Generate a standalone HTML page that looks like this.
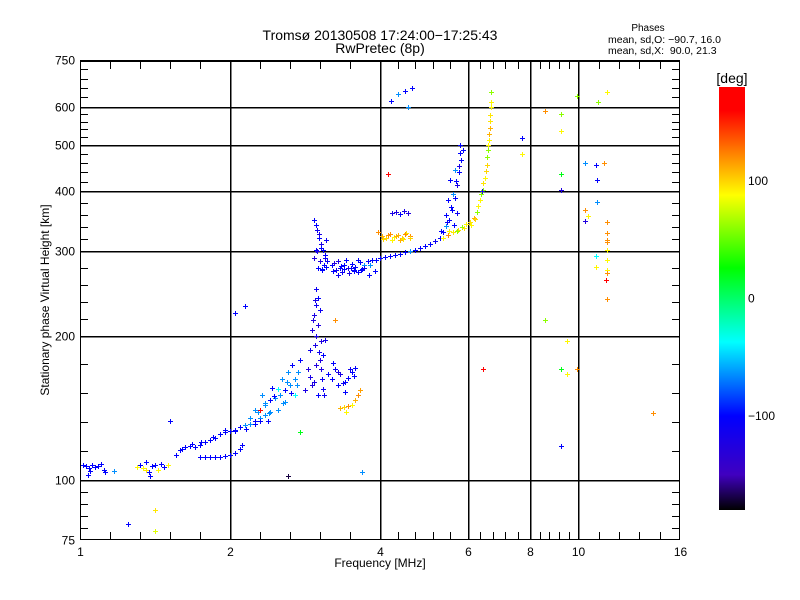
<!DOCTYPE html>
<html><head><meta charset="utf-8"><style>
html,body{margin:0;padding:0;background:#fff;}
svg{display:block;font-family:"Liberation Sans",sans-serif;}
</style></head><body>
<svg id="chart" width="800" height="600" viewBox="0 0 800 600" xmlns="http://www.w3.org/2000/svg" shape-rendering="crispEdges">
<rect x="0" y="0" width="800" height="600" fill="#fff"/>
<text x="380" y="40" font-size="14" text-anchor="middle">Tromsø 20130508 17:24:00−17:25:43</text>
<text x="380" y="53" font-size="14" text-anchor="middle">RwPretec (8p)</text>
<text x="648" y="31" font-size="10" text-anchor="middle">Phases</text>
<text x="608" y="43" font-size="10.5">mean, sd,O: −90.7, 16.0</text>
<text x="608" y="54" font-size="10.5" xml:space="preserve">mean, sd,X:  90.0, 21.3</text>
<text transform="translate(49,300) rotate(-90)" font-size="12" text-anchor="middle">Stationary phase Virtual Height [km]</text>
<text x="380" y="567" font-size="12" text-anchor="middle">Frequency [MHz]</text>
<g id="grid"></g>
<g id="points"></g>
<rect x="80.5" y="61.5" width="599" height="478" fill="none" stroke="#000" stroke-width="1"/>
<line x1="80" x2="680" y1="61" y2="61" stroke="#000" stroke-width="2"/>
<text x="732" y="83" font-size="14" text-anchor="middle">[deg]</text>
<g id="cbar"></g>
</svg>
<script>
// axis tick values
const xTickVals = [1, 2, 4, 6, 8, 10, 16];
const xTickLabels = ["1", "2", "4", "6", "8", "10", "16"];
const yTickVals = [75, 100, 200, 300, 400, 500, 600, 750];
const yTickLabels = ["75", "100", "200", "300", "400", "500", "600", "750"];
const cbTickVals = [100, 0, -100];
const cbTickLabels = ["100", "0", "−100"];

// echo data: frequency (MHz), virtual height (km), phase (deg)
const freqs = [
 1.014,1.028,1.042,1.057,1.072,1.087,1.102,1.047,1.117,1.038,1.122,1.170,
 1.301,1.320,1.338,1.357,1.376,1.395,1.414,1.434,1.454,1.474,1.502,1.382,1.357,
 1.558,1.587,1.625,1.662,1.701,1.741,1.782,1.824,1.866,1.910,1.955,2.0,2.047,2.095,2.144,2.194,2.246,2.297,2.352,2.406,
 1.741,1.782,1.824,1.866,1.910,1.955,2.0,2.047,2.095,2.114,
 2.194,2.277,2.352,2.406,2.462,2.52,2.581,2.639,2.700,2.319,2.43,2.544,2.617,2.662,2.739,2.765,2.497,2.385,2.581,2.700,
 2.828,2.868,2.89,2.917,2.945,2.972,3.0,2.958,3.03,3.06,3.0,3.1,2.917,3.03,2.958,3.14,3.09,2.89,2.972,3.075,
 3.2,3.29,3.37,3.45,3.51,3.57,3.25,3.4,3.33,
 3.33,3.39,3.45,3.51,3.56,3.61,3.64,3.42,
 2.297,2.765,2.617,1.516,2.047,2.144,3.68,3.25,1.248,1.414,1.414,
 2.945,2.986,3.014,3.044,3.075,3.1,3.13,2.972,3.03,3.0,3.06,3.115,2.945,3.09,
 3.2,3.26,3.33,3.39,3.45,3.51,3.57,3.64,3.71,3.78,3.85,3.93,4.0,3.29,3.42,3.54,3.68,3.82,3.36,3.61,
 4.093,4.19,4.29,4.39,4.49,4.59,4.7,4.81,4.92,5.04,5.16,5.28,5.35,5.42,5.5,5.57,5.66,5.71,5.76,5.81,5.87,5.79,5.66,5.52,5.47,5.42,
 4.037,4.11,4.19,4.27,4.35,4.43,4.52,4.59,4.23,4.39,3.96,
 4.23,4.31,4.39,4.47,4.55,
 5.35,5.47,5.6,5.74,5.84,5.95,6.06,6.18,6.27,6.35,6.43,6.5,6.56,6.59,6.62,6.66,6.66,6.69,6.69,
 4.21,4.35,4.49,4.63,4.55,4.15,
 11.4,9.93,10.93,8.56,9.24,9.24,7.71,7.71,10.33,10.83,11.25,9.24,10.88,9.24,10.88,10.33,10.47,11.4,10.33,11.4,11.4,11.4,11.4,10.83,11.4,10.83,11.4,11.4,11.34,11.4,8.56,9.47,9.24,9.93,9.47,14.1,9.24,6.43,
 3.22,3.3,3.38,3.46,3.55,3.62,3.72,3.8,3.9,3.24,3.34,3.5,3.66,
 2.97,3.02,3.05,3.1,2.99,3.06,3.12,
 2.93,2.98,3.02,3.05,2.95,3.08,3.0,2.97,3.04,
 5.3,5.45,5.55,5.6,5.68,5.75,5.8,5.5,5.62,5.72,
 6.3,6.38,6.45,6.52,6.55,6.6,6.63,6.64,6.67,6.2,6.1,5.9,5.7,6.4,
 4.06,4.15,4.22,4.3,4.45,4.5,4.6,
 2.25,2.35,2.45,2.55,2.5,2.6,2.65,2.72,2.4,2.3,
 1.6,1.68,1.75,1.85,1.95,2.05,2.15,2.25,
 3.22,3.3,3.4,3.48,3.55
];
const heights = [
 107.5,107,106,107.5,106.5,107,108,104.5,105,102.5,104,104.5,
 106.5,107.5,106,105,104,107,107.5,105,108,106.5,107.5,102,109,
 112.8,115.5,117,118,117,118.5,120.3,121,122.5,125,126,126.8,126.8,129,130.5,131,133,134.6,136.5,138.6,
 111.6,111.6,111.6,111.6,111.6,112.3,112.8,113.8,116.3,118.5,
 134.6,138.6,143.5,147,148.5,150.6,154,158,162,150.6,155.5,162,168,174,168,178,140,133,145.5,150.6,
 154,170,187,205,221,232,210,191.5,178,162,150.6,196,158,226,237,166,150.6,164,174,182.5,
 162,158,159.5,163.5,168,171.5,170,152.6,166,
 141,141.7,142.5,143.5,147,150.6,154,138.6,
 140,126,102,133,223,230,104,215,81,86.5,78.2,
 348,332,319,310,301,294,285.5,301,285.5,277,274,316,290,281,
 280,274,277,281,277,282.5,278.5,284,281,285.5,287,288,289.7,285.5,287,274,275,280,271,288,
 291,292.5,294,295.5,298.3,300,301,304.7,308,311,314.5,319,329,339,348,365,386,412,438,464,487,498,442,422,383,356,
 322,319,325.5,320.5,324,319,327,322,316,316,329,
 360,362,358,364,360,
 319,324,329,332,337,341,345,352,362,383,402,426,453,487,511,542,577,614,644,
 616,637,646,655,598,435,
 644,632,614,588,579,533,516,477,457,453,457,435,422,402,380,365,355,344,347,327,317,313,302,292.5,288,278.5,274,270,261,238,215,195,170,170,166,138,118,170,
 272,268,275,270,273,271,276,268,272,283,279,277,274,
 340,325,305,290,300,275,278,
 215,200,185,170,160,155,240,250,195,
 330,345,370,395,420,450,480,330,340,360,
 372,395,415,440,470,500,525,560,600,350,340,335,330,400,
 318,324,316,322,318,325,320,
 140,145,150,145,155,160,152,158,138,133,
 116,119,120,123,127,127,128,131,
 175,168,160,170,165
];
const phases = [
 -100,-100,-100,-100,-100,-100,-100,-100,-100,-100,-100,-65,
 90,-100,90,95,-100,-100,-100,90,-100,-100,90,-100,-100,
 -100,-100,-100,-100,-100,-100,-100,-100,-100,-100,-100,-100,-100,-100,-65,-65,-100,-65,-65,-65,
 -100,-100,-100,-100,-100,-100,-100,-100,-100,-100,
 -65,-65,-65,-100,-65,-65,-100,-65,-65,-65,-100,-65,-65,-100,-65,-100,-65,-100,-65,-37,
 -120,-125,-115,-125,-120,-110,-125,-120,-125,-110,-100,-115,-125,-110,-120,-100,-110,-120,-125,-100,
 -100,-100,-110,-100,-100,-100,-110,-100,-120,
 110,100,120,90,110,120,115,90,
 160,20,-170,-100,-100,-100,-65,120,-100,95,80,
 -100,-110,-100,-120,-100,-100,-110,-100,-125,-100,-100,-110,-125,-100,
 -100,-110,-100,-100,-120,-100,-100,-100,-65,-100,-100,-100,-100,-120,-100,-100,-100,-65,-110,-100,
 -100,-100,-100,-100,-100,-65,-100,-100,-100,-100,-110,-100,-100,-65,-100,-100,-100,-120,-100,-100,-100,-100,-65,-100,-100,-100,
 110,100,120,90,110,100,95,120,100,110,120,
 -120,-125,-100,-120,-125,
 90,120,95,100,60,90,95,110,60,90,60,90,100,60,90,110,95,90,60,
 -100,-65,-100,-100,-65,160,
 90,60,60,120,60,90,-100,90,-65,-100,120,20,-100,-125,-65,120,90,120,-125,120,120,120,90,-37,90,90,90,120,160,120,60,90,20,120,90,120,-100,160,
 -100,-110,-100,-120,-100,-100,-110,-100,-100,-125,-100,-110,-100,
 -100,-120,-100,-110,-125,-100,-100,
 -125,-120,-110,-125,-120,-110,-100,-110,-125,
 -100,-110,-100,-65,-100,-120,-100,90,-100,-110,
 90,60,95,100,60,90,110,95,90,100,90,95,60,-120,
 100,120,90,110,95,120,100,
 -65,-65,-100,-65,-37,-65,-100,-65,-65,-100,
 -100,-100,-100,-100,-100,-100,-100,-100,
 -100,-120,-100,-110,-100
];

const NS = "http://www.w3.org/2000/svg";
const PX0 = 80, PX1 = 680, PY0 = 540, PY1 = 61;
function xScale(f) { return PX0 + 150 * Math.log2(f); }
function yScale(h) { return PY0 - 480 * Math.log10(h / 75); }
function xPix(i) { return xScale(xTickVals[i]); }
function yPix(i) { return yScale(yTickVals[i]); }

function mk(tag, attrs, parent) {
  const e = document.createElementNS(NS, tag);
  for (const k in attrs) e.setAttribute(k, attrs[k]);
  parent.appendChild(e);
  return e;
}

// colour scale
const cStops = [[-180,[0,0,0]],[-150,[64,0,192]],[-100,[0,0,255]],[-37,[0,255,255]],[26,[0,255,0]],[88,[255,255,0]],[160,[255,0,0]],[180,[255,0,0]]];
function phaseColor(v) {
  v = Math.max(-180, Math.min(180, v));
  for (let i = 0; i < cStops.length - 1; i++) {
    const a = cStops[i], b = cStops[i + 1];
    if (v <= b[0]) {
      const t = (v - a[0]) / (b[0] - a[0]);
      const c = a[1].map((x, j) => Math.round(x + (b[1][j] - x) * t));
      return "rgb(" + c.join(",") + ")";
    }
  }
  return "rgb(255,0,0)";
}

const grid = document.getElementById("grid");
for (let i = 0; i < xTickVals.length; i++) {
  const x = Math.round(xPix(i)) + 0.5;
  if (i > 0 && i < xTickVals.length - 1) {
    const gl = mk("line", {x1: x, x2: x, y1: PY1, y2: PY0, stroke: "#000", "stroke-width": 1.5}, grid);
    
    
  }
  const t = mk("text", {x: x, y: 556, "font-size": 12, "text-anchor": "middle"}, grid);
  t.textContent = xTickLabels[i];
  
  
  if (i < xTickVals.length - 1) {
    const a = xPix(i), b = xPix(i + 1);
    for (let k = 1; k < 5; k++) {
      const mx = Math.round(a + (b - a) * k / 5) + 0.5;
      const t1 = mk("line", {x1: mx, x2: mx, y1: PY0 - 8, y2: PY0, stroke: "#000"}, grid);
      
      
      const t2 = mk("line", {x1: mx, x2: mx, y1: PY1, y2: PY1 + 8, stroke: "#000"}, grid);
      
      
    }
  }
}
for (let i = 0; i < yTickVals.length; i++) {
  const y = Math.round(yPix(i)) + 0.5;
  if (i > 0 && i < yTickVals.length - 1) {
    const gl = mk("line", {x1: PX0, x2: PX1, y1: y, y2: y, stroke: "#000", "stroke-width": 1.5}, grid);
    
    
  }
  const t = mk("text", {x: 75, y: y + 4, "font-size": 12, "text-anchor": "end"}, grid);
  t.textContent = yTickLabels[i];
  
  
  if (i < yTickVals.length - 1) {
    const a = yPix(i), b = yPix(i + 1);
    for (let k = 1; k < 5; k++) {
      const my = Math.round(a + (b - a) * k / 5) + 0.5;
      const t1 = mk("line", {x1: PX0, x2: PX0 + 8, y1: my, y2: my, stroke: "#000"}, grid);
      
      
      const t2 = mk("line", {x1: PX1 - 8, x2: PX1, y1: my, y2: my, stroke: "#000"}, grid);
      
      
    }
  }
}

// points as plus markers
const pg = document.getElementById("points");
for (let i = 0; i < freqs.length; i++) {
  const cx = Math.round(xScale(freqs[i])), cy = Math.round(yScale(heights[i]));
  const col = phaseColor(phases[i]);
  const g = mk("g", {fill: col}, pg);
  
  
  mk("rect", {x: cx - 2, y: cy, width: 5, height: 1}, g);
  mk("rect", {x: cx, y: cy - 2, width: 1, height: 5}, g);
}

// colorbar
const cb = document.getElementById("cbar");
const CB_TOP = 87, CB_BOT = 510, CB_X = 719, CB_W = 26;
function cbY(v) { return CB_BOT - (v + 180) / 360 * (CB_BOT - CB_TOP); }
for (let y = CB_TOP; y < CB_BOT; y++) {
  const v = 180 - (y - CB_TOP + 0.5) / (CB_BOT - CB_TOP) * 360;
  mk("rect", {x: CB_X, y: y, width: CB_W, height: 1, fill: phaseColor(v)}, cb);
}
for (let i = 0; i < cbTickVals.length; i++) {
  const y = cbY(cbTickVals[i]);
  const t = mk("text", {x: 748, y: y + 4, "font-size": 12}, cb);
  t.textContent = cbTickLabels[i];
  
  
}
</script>
</body></html>
